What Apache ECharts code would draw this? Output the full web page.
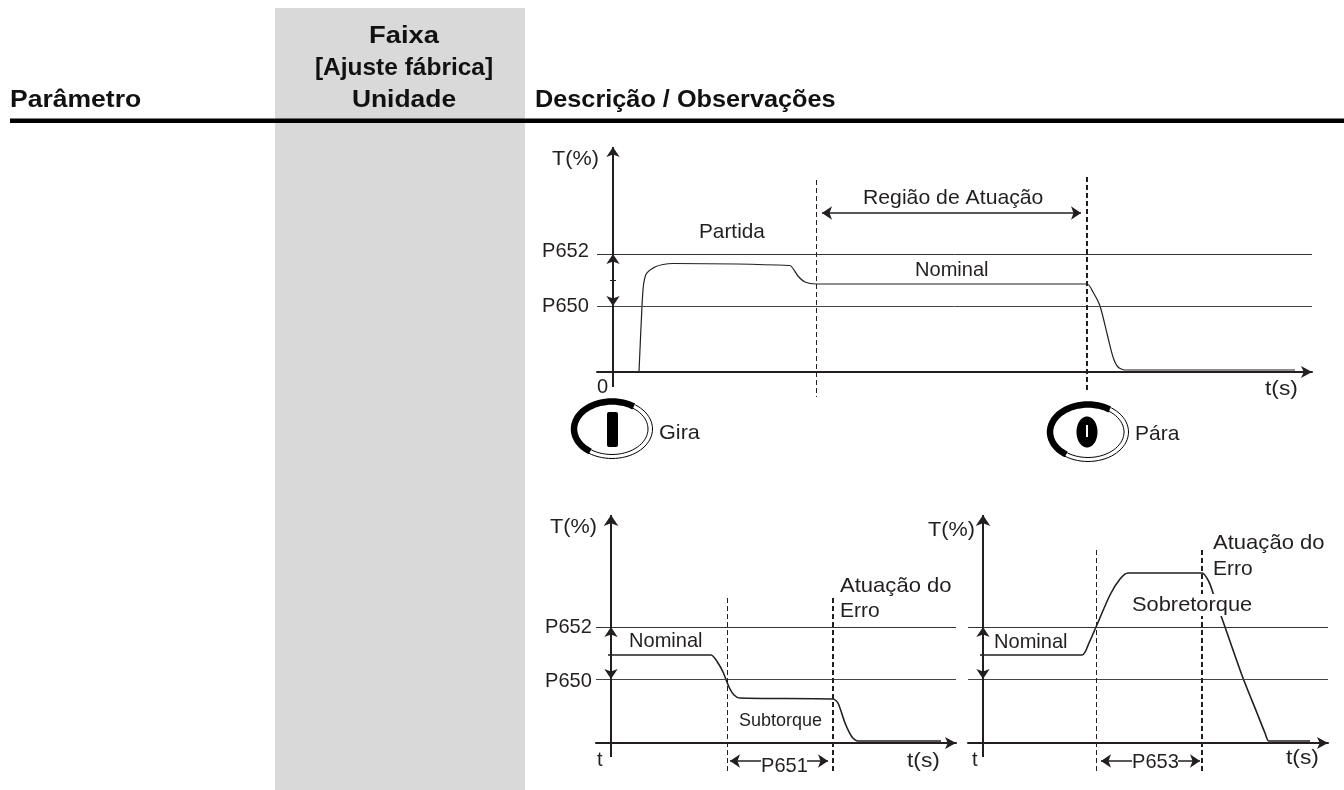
<!DOCTYPE html>
<html>
<head>
<meta charset="utf-8">
<style>
  html, body { margin: 0; background: #fff; }
  #chart { width: 1344px; height: 790px; }
</style>
<script src="https://cdn.jsdelivr.net/npm/echarts@6/dist/echarts.min.js"></script>
</head>
<body>
<div id="chart"></div>
<script>
// curva superior (partida, nominal, parada)
const topTime = [26, 29, 30.5, 33.5, 42, 50, 60, 177, 180, 185, 192, 203, 474, 480, 487, 494, 500, 505, 512, 682];
const topTorque = [0, 66, 87, 98.5, 105, 107.5, 108.5, 106.5, 103.5, 96, 90, 88, 88, 80, 66, 38.5, 15, 5, 2, 2];
// subtorque
const subTime = [-3, 100, 107, 112, 118, 123, 129, 222, 227, 234, 241, 247, 330];
const subTorque = [88, 88, 80, 71, 56, 48, 45, 44, 40, 20, 6, 2, 2];
// sobretorque
const overTime = [-3, 99, 106, 113, 127, 137, 145, 219, 226, 230, 242, 260, 274, 282, 286, 327];
const overTorque = [88, 88, 100, 116, 148, 164, 170, 170, 161, 150, 116, 65, 30, 10, 2, 2];

const topLimits = [118, 66];    // P652, P650
const lowLimits = [116, 64];
const INK = '#231f20';
const FONT = '"Liberation Sans", Arial, sans-serif';

let chart = echarts.init(document.getElementById('chart'));

function zip(a, b) { return a.map((v, i) => [v, b[i]]); }

function seg(x0, y0, x1, y1, width, type, startSym, endSym, size) {
    return [
        { coord: [x0, y0], symbol: startSym || 'none', symbolSize: size || 10 },
        { coord: [x1, y1], symbol: endSym || 'none', symbolSize: size || 10, lineStyle: { color: INK, width: width, type: type || 'solid', dashOffset: 0 } }
    ];
}

function panel(idx, time, torque, limits, curveWidth, marks) {
    return {
        type: 'line',
        xAxisIndex: idx,
        yAxisIndex: idx,
        data: zip(time, torque),
        showSymbol: false,
        smooth: 0.25,
        clip: false,
        lineStyle: { color: INK, width: curveWidth },
        markLine: {
            silent: true,
            animation: false,
            symbol: 'none',
            label: { show: false },
            emphasis: { disabled: true },
            data: [
                { yAxis: limits[0], lineStyle: { color: '#333', width: 1, type: 'solid' } },
                { yAxis: limits[1], lineStyle: { color: '#444', width: 1, type: 'solid' } }
            ].concat(marks)
        }
    };
}

function xAxis(idx, min, max) {
    return {
        type: 'value', gridIndex: idx, min: min, max: max,
        splitLine: { show: false }, axisTick: { show: false }, axisLabel: { show: false },
        axisLine: { show: true, onZero: true, symbol: ['none', 'arrow'], symbolSize: [9, 11], lineStyle: { color: INK, width: 2 } }
    };
}
function yAxis(idx, min, max) {
    return {
        type: 'value', gridIndex: idx, min: min, max: max,
        splitLine: { show: false }, axisTick: { show: false }, axisLabel: { show: false },
        axisLine: { show: false }
    };
}

// textos e enfeites
function label(text, x, y, size, scale, extra) {
    return {
        type: 'text', x: x, y: y, z: 20, scaleX: scale || 0.955,
        style: Object.assign({ text: text, font: (size || 21) + 'px ' + FONT, fill: INK, textAlign: 'left', textVerticalAlign: 'middle' }, extra || {})
    };
}
function head(text, x, y, align, scale) {
    return label(text, x, y, 24, scale, { font: 'bold 24px ' + FONT, fill: '#111', textAlign: align });
}
function ellipsePts(cx, cy, rx, ry, from, to) {
    let pts = [];
    for (let a = from; a <= to; a += 5) {
        let r = a * Math.PI / 180;
        pts.push([cx + rx * Math.cos(r), cy + ry * Math.sin(r)]);
    }
    return pts;
}
function arc(cx, cy, rx, ry, from, to, width) {
    return { type: 'polyline', z: 20, shape: { points: ellipsePts(cx, cy, rx, ry, from, to) }, style: { stroke: '#000', fill: null, lineWidth: width } };
}
function knob(cx, cy) {
    return [
        arc(cx, cy, 38, 27.5, 125, 305, 6.5),
        arc(cx, cy, 36, 25.5, 305, 485, 1),
        arc(cx, cy, 40.5, 29.5, 305, 485, 1)
    ];
}

const graphics = [
    { type: 'rect', z: -1, shape: { x: 275, y: 8, width: 250, height: 782 }, style: { fill: '#d9d9d9' } },
    { type: 'rect', z: 1, shape: { x: 10, y: 118.5, width: 1334, height: 4.5 }, style: { fill: '#000' } },
    head('Parâmetro', 10, 100, 'left', 1.105),
    head('Faixa', 404, 36, 'center', 1.14),
    head('[Ajuste fábrica]', 404, 68, 'center', 1.02),
    head('Unidade', 404, 100, 'center', 1.1),
    head('Descrição / Observações', 535, 100, 'left', 1.053),

    label('T(%)', 552, 159, 21, 1.03),
    label('P652', 542, 251),
    label('P650', 542, 306),
    label('0', 597, 387),
    label('Partida', 699, 232, 21, 0.99),
    label('Região de Atuação', 863, 198, 21, 1.01),
    label('Nominal', 915, 270),
    label('t(s)', 1265, 389, 21, 1.085),
    label('Gira', 659, 433, 21, 1.03),
    label('Pára', 1135, 434, 21, 1.0),
    ...knob(612, 429),
    ...knob(1088, 432),
    { type: 'rect', z: 20, shape: { x: 607, y: 412, width: 11, height: 35, r: 2 }, style: { fill: '#000' } },
    { type: 'polygon', z: 20, shape: { points: ellipsePts(1087, 432, 10.5, 15.5, 0, 355) }, style: { fill: '#000' } },
    { type: 'rect', z: 21, shape: { x: 1086, y: 425, width: 2, height: 12 }, style: { fill: '#fff' } },

    label('T(%)', 550, 527, 21, 1.03),
    label('P652', 545, 627),
    label('P650', 545, 681),
    label('Nominal', 629, 641),
    label('Subtorque', 739, 721, 18, 1),
    label('Atuação do', 840, 586, 21, 1.05),
    label('Erro', 840, 611, 21, 1.0),
    label('t', 597, 760),
    label('t(s)', 907, 761, 21, 1.085),
    label('P651', 761, 766),

    label('T(%)', 928, 530, 21, 1.03),
    label('Nominal', 994, 642),
    label('Sobretorque', 1132, 605, 21, 1.04, { backgroundColor: '#fff', padding: [0, 0, 1, 0] }),
    label('Atuação do', 1213, 543, 21, 1.05),
    label('Erro', 1213, 569, 21, 1.0),
    label('t', 972, 760),
    label('t(s)', 1286, 758, 21, 1.085),
    label('P653', 1132, 762)
];

chart.setOption({
    animation: false,
    backgroundColor: '#fff',
    textStyle: { fontFamily: FONT },
    grid: [
        { left: 597, top: 146, width: 715, height: 251 },
        { left: 596, top: 515, width: 360, height: 257 },
        { left: 968, top: 515, width: 360, height: 257 }
    ],
    xAxis: [xAxis(0, -16, 699), xAxis(1, -15, 345), xAxis(2, -15, 345)],
    yAxis: [yAxis(0, -25, 226), yAxis(1, -29, 228), yAxis(2, -29, 228)],
    series: [
        panel(0, topTime, topTorque, topLimits, 1.2, [
            seg(0, -15, 0, 225, 2, 'solid', 'none', 'arrow', 10),
            seg(0, 118, 0, 66, 1.5, 'solid', 'arrow', 'arrow', 10),
            seg(-3, 92, 3, 92, 1),
            seg(203, 192, 203, -25, 1, [5, 3]),
            seg(474, 195, 474, -20, 2, [5, 3]),
            seg(209, 159, 468, 159, 1.5, 'solid', 'arrow', 'arrow', 10)
        ]),
        panel(1, subTime, subTorque, lowLimits, 1.6, [
            seg(0, -14, 0, 228, 2, 'solid', 'none', 'arrow', 11),
            seg(0, 116, 0, 64, 1.5, 'solid', 'arrow', 'arrow', 10),
            seg(116, 145, 116, -29, 1, [5, 3]),
            seg(222, 145, 222, -29, 2, [5, 3]),
            seg(119, -18, 150, -18, 1.5, 'solid', 'arrow', 'none', 10),
            seg(196, -18, 217, -18, 1.5, 'solid', 'none', 'arrow', 10)
        ]),
        panel(2, overTime, overTorque, lowLimits, 1.6, [
            seg(0, -14, 0, 228, 2, 'solid', 'none', 'arrow', 11),
            seg(0, 116, 0, 64, 1.5, 'solid', 'arrow', 'arrow', 10),
            seg(113, 193, 113, -29, 1, [5, 3]),
            seg(219, 193, 219, -29, 2, [5, 3]),
            seg(118, -18, 149, -18, 1.5, 'solid', 'arrow', 'none', 10),
            seg(195, -18, 217, -18, 1.5, 'solid', 'none', 'arrow', 10)
        ])
    ],
    graphic: { elements: graphics }
});
</script>
</body>
</html>
